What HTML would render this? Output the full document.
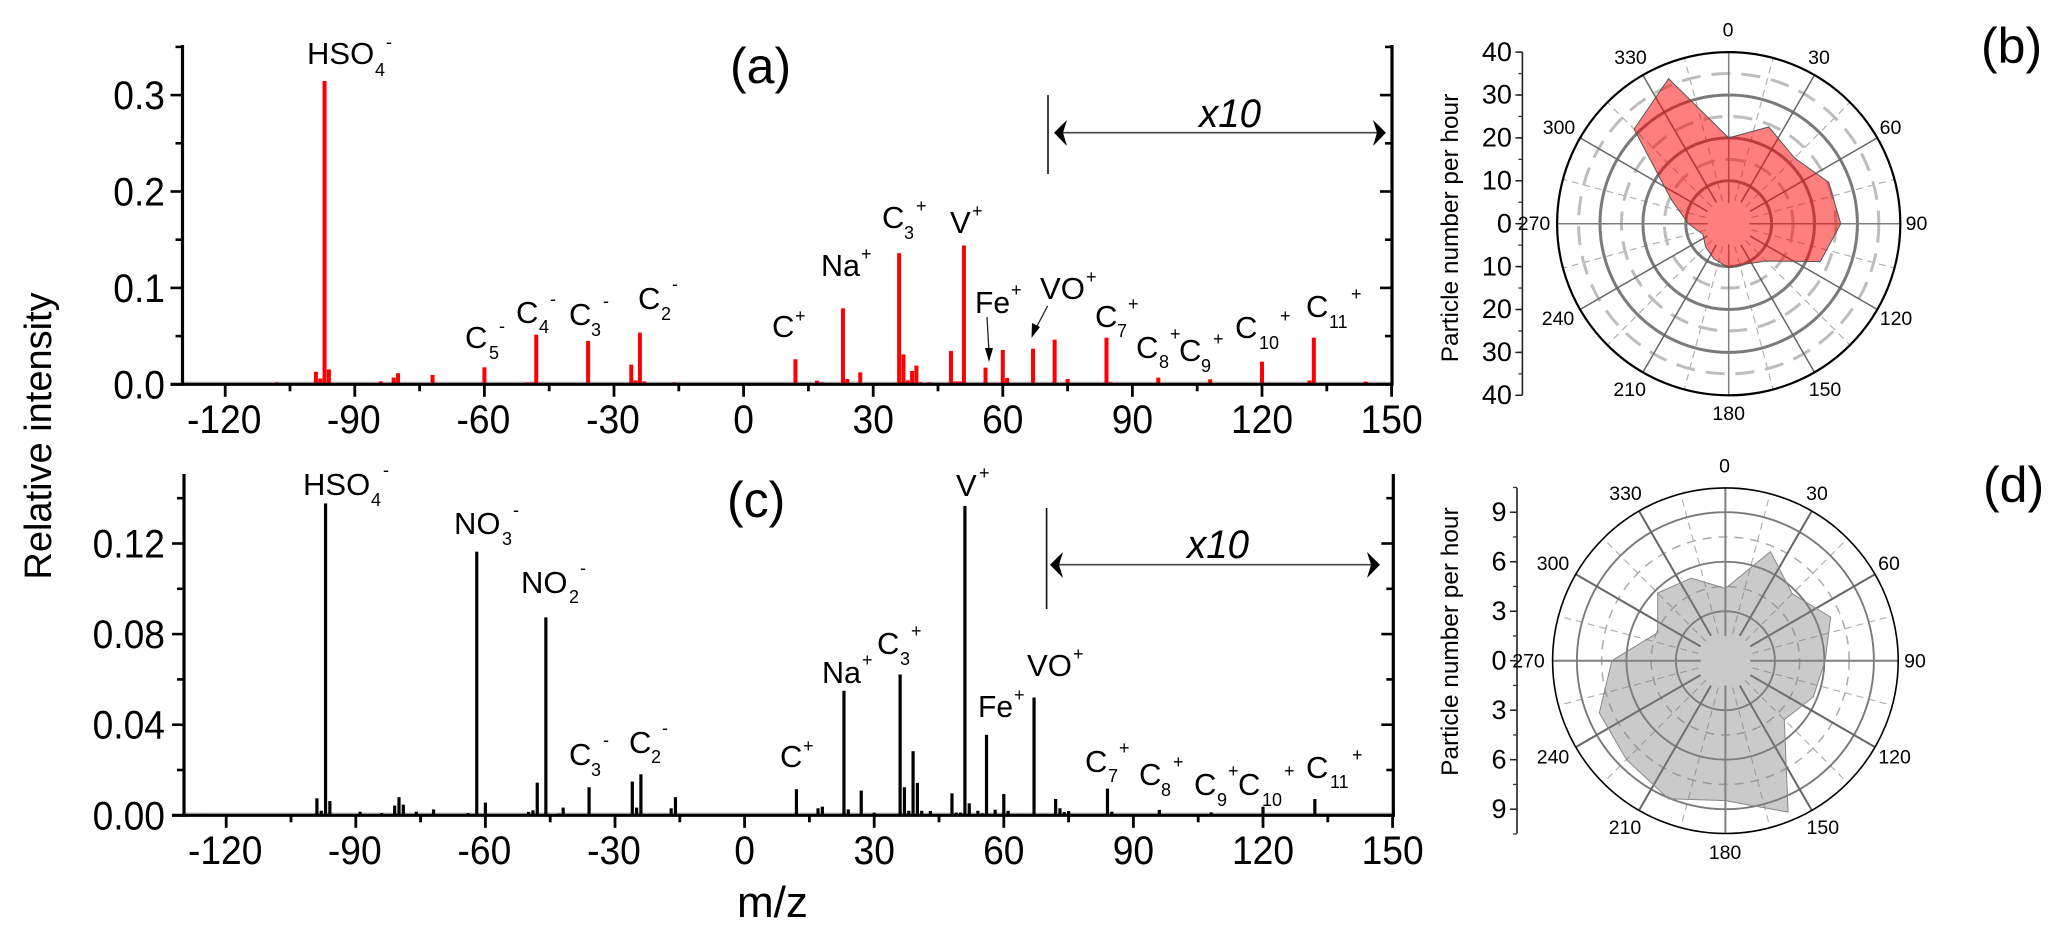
<!DOCTYPE html>
<html lang="en">
<head>
<meta charset="utf-8">
<title>Mass spectra and polar plots</title>
<style>
html,body{margin:0;padding:0;background:#fff;}
svg{display:block;font-family:"Liberation Sans",sans-serif;fill:#000;filter:blur(0.35px);}
.m{font-size:31px;transform:translateY(1px);}
.s{font-size:18px;}
.h{transform:translateY(-1.8px);}
.pl{font-size:50px;}
.x10{font-size:40px;font-style:italic;}
</style>
</head>
<body>
<svg id="figure" width="2067" height="942" viewBox="0 0 2067 942" xmlns="http://www.w3.org/2000/svg">
<rect width="2067" height="942" fill="#fff"/>
<g id="panelA"></g>
<g id="panelC"></g>
<g id="panelB"></g>
<g id="panelD"></g>

<text transform="translate(51,436) rotate(-90)" text-anchor="middle" font-size="38">Relative intensity</text>
<text x="737" y="917" font-size="44">m/z</text>

<text class="pl" x="730" y="83">(a)</text>
<text class="pl" x="727" y="517">(c)</text>
<text class="pl" x="1981" y="63">(b)</text>
<text class="pl" x="1983" y="502">(d)</text>

<g>
<g><text class="m" x="307" y="63">HSO</text><text class="s" x="375" y="76">4</text><text class="s h" x="386" y="50">-</text></g>
<g><text class="m" x="465" y="347">C</text><text class="s" x="489" y="359">5</text><text class="s h" x="499" y="334">-</text></g>
<g><text class="m" x="516" y="322">C</text><text class="s" x="539" y="333">4</text><text class="s h" x="550" y="307">-</text></g>
<g><text class="m" x="569" y="324">C</text><text class="s" x="591" y="336">3</text><text class="s h" x="603" y="309">-</text></g>
<g><text class="m" x="638" y="308">C</text><text class="s" x="661" y="320">2</text><text class="s h" x="672" y="292">-</text></g>
<g><text class="m" x="772" y="336">C</text><text class="s" x="795" y="322">+</text></g>
<g><text class="m" x="821" y="275" textLength="39" lengthAdjust="spacingAndGlyphs">Na</text><text class="s" x="861" y="260">+</text></g>
<g><text class="m" x="882" y="227">C</text><text class="s" x="904" y="239">3</text><text class="s" x="916" y="212">+</text></g>
<g><text class="m" x="950" y="232">V</text><text class="s" x="972" y="217">+</text></g>
<g><text class="m" x="975" y="312" textLength="35" lengthAdjust="spacingAndGlyphs">Fe</text><text class="s" x="1011" y="296">+</text></g>
<g><text class="m" x="1040" y="298" textLength="45" lengthAdjust="spacingAndGlyphs">VO</text><text class="s" x="1086" y="283">+</text></g>
<g><text class="m" x="1095" y="326">C</text><text class="s" x="1117" y="337">7</text><text class="s" x="1128" y="310">+</text></g>
<g><text class="m" x="1136" y="357">C</text><text class="s" x="1159" y="368">8</text><text class="s" x="1170" y="340">+</text></g>
<g><text class="m" x="1179" y="360">C</text><text class="s" x="1201" y="372">9</text><text class="s" x="1213" y="345">+</text></g>
<g><text class="m" x="1235" y="337">C</text><text class="s" x="1259" y="349">10</text><text class="s" x="1280" y="322">+</text></g>
<g><text class="m" x="1306" y="316">C</text><text class="s" x="1329" y="328">11</text><text class="s" x="1351" y="300">+</text></g>
<g><line x1="987" y1="317" x2="989" y2="352" stroke="#222" stroke-width="1.3"/><polygon points="989,362 985,348 993,348" fill="#000"/></g>
<g><line x1="1047.6" y1="306" x2="1035" y2="330" stroke="#222" stroke-width="1.3"/><polygon points="1031.5,338 1032,323 1040,327" fill="#000"/></g>
<g>
<line x1="1048" y1="95" x2="1048" y2="174" stroke="#111" stroke-width="1.6"/>
<line x1="1058" y1="132.7" x2="1382" y2="132.7" stroke="#444" stroke-width="1.6"/>
<polygon points="1054,132.7 1067,120 1063,132.7 1067,146" fill="#000"/>
<polygon points="1386,132.7 1373,120 1377,132.7 1373,146" fill="#000"/>
<text class="x10" x="1199" y="127" textLength="62" lengthAdjust="spacingAndGlyphs">x10</text>
</g>
</g>

<g>
<g><text class="m" x="303" y="494">HSO</text><text class="s" x="371" y="506">4</text><text class="s h" x="383" y="478">-</text></g>
<g><text class="m" x="454" y="533">NO</text><text class="s" x="502" y="545">3</text><text class="s h" x="513" y="518">-</text></g>
<g><text class="m" x="521" y="592">NO</text><text class="s" x="569" y="603">2</text><text class="s h" x="580" y="576">-</text></g>
<g><text class="m" x="569" y="764">C</text><text class="s" x="591" y="776">3</text><text class="s h" x="603" y="748">-</text></g>
<g><text class="m" x="629" y="752">C</text><text class="s" x="651" y="763">2</text><text class="s h" x="662" y="736">-</text></g>
<g><text class="m" x="780" y="766">C</text><text class="s" x="803" y="752">+</text></g>
<g><text class="m" x="822" y="682" textLength="39" lengthAdjust="spacingAndGlyphs">Na</text><text class="s" x="862" y="666">+</text></g>
<g><text class="m" x="877" y="653">C</text><text class="s" x="900" y="665">3</text><text class="s" x="911" y="637">+</text></g>
<g><text class="m" x="956" y="495">V</text><text class="s" x="979" y="479">+</text></g>
<g><text class="m" x="978" y="716" textLength="35" lengthAdjust="spacingAndGlyphs">Fe</text><text class="s" x="1014" y="701">+</text></g>
<g><text class="m" x="1027" y="675" textLength="45" lengthAdjust="spacingAndGlyphs">VO</text><text class="s" x="1073" y="660">+</text></g>
<g><text class="m" x="1085" y="771">C</text><text class="s" x="1108" y="782">7</text><text class="s" x="1119" y="754">+</text></g>
<g><text class="m" x="1139" y="784">C</text><text class="s" x="1161" y="796">8</text><text class="s" x="1173" y="768">+</text></g>
<g><text class="m" x="1194" y="794">C</text><text class="s" x="1217" y="806">9</text><text class="s" x="1228" y="777">+</text></g>
<g><text class="m" x="1238" y="794">C</text><text class="s" x="1262" y="806">10</text><text class="s" x="1284" y="777">+</text></g>
<g><text class="m" x="1306" y="777">C</text><text class="s" x="1330" y="788">11</text><text class="s" x="1352" y="761">+</text></g>
<g>
<line x1="1046.6" y1="508" x2="1046.6" y2="609" stroke="#111" stroke-width="1.6"/>
<line x1="1054" y1="564.7" x2="1376" y2="564.7" stroke="#444" stroke-width="1.6"/>
<polygon points="1050,564.7 1063,552 1059,564.7 1063,578" fill="#000"/>
<polygon points="1380,564.7 1367,552 1371,564.7 1367,578" fill="#000"/>
<text class="x10" x="1187" y="558" textLength="62" lengthAdjust="spacingAndGlyphs">x10</text>
</g>
</g>

<script>
// ---- panel (a) data: m/z and relative intensity ----
const massesA = [-108,-99,-98,-97,-96,-84,-81,-80,-72,-60,-50,-49,-48,-36,-26,-25,-24,-23,-16,12,17,18,23,24,27,29,36,37,38,39,40,41,43,48,49,50,51,56,60,61,67,72,73,74,75,84,85,96,108,120,131,132,144];
const intensitiesA = [0.002,0.013,0.006,0.3146,0.0155,0.003,0.007,0.0115,0.0097,0.0176,0.002,0.002,0.0515,0.045,0.0204,0.004,0.0536,0.003,0.002,0.026,0.0038,0.002,0.0788,0.0055,0.0124,0.001,0.136,0.031,0.004,0.0138,0.0194,0.002,0.002,0.0346,0.003,0.003,0.144,0.0173,0.0356,0.0066,0.037,0.0463,0.001,0.001,0.0055,0.0484,0.002,0.0069,0.0052,0.0235,0.004,0.0484,0.0028];
// ---- panel (c) data ----
const massesC = [-125,-100,-99,-98,-97,-96,-89,-84,-81,-80,-79,-76,-72,-64,-62,-60,-59,-50,-49,-48,-46,-44,-43,-42,-36,-35,-26,-25,-24,-23,-17,-16,7,12,17,18,23,24,27,29,30,36,37,38,39,40,41,43,48,49,50,51,52,54,55,56,57,58,60,61,63,67,69,72,73,74,75,84,85,96,108,112,120,132];
const intensitiesC = [0.0006,0.0005,0.0075,0.002,0.1377,0.0063,0.0016,0.001,0.0043,0.008,0.0047,0.0016,0.0026,0.001,0.1164,0.0056,0.0005,0.0015,0.0022,0.0144,0.0874,0.0004,0.0008,0.0034,0.0124,0.0005,0.0149,0.0034,0.0181,0.0005,0.0031,0.008,0.0003,0.0115,0.0031,0.0038,0.055,0.0026,0.0109,0.0004,0.0012,0.0622,0.0124,0.002,0.0283,0.0143,0.002,0.0019,0.0097,0.0012,0.0012,0.1366,0.0053,0.002,0.0009,0.0355,0.0006,0.0025,0.0094,0.002,0.0006,0.052,0.0006,0.0072,0.0031,0.0014,0.0019,0.0118,0.0016,0.0024,0.0013,0.0005,0.0038,0.0072];
// ---- tick values ----
const xMajorTicks = [-120,-90,-60,-30,0,30,60,90,120,150];
const xMinorTicks = [-105,-75,-45,-15,15,45,75,105,135];
const yMajorTicksA = [0,0.1,0.2,0.3];
const yMinorTicksA = [0.05,0.15,0.25,0.35];
const yLabelsA = ["0.0","0.1","0.2","0.3"];
const yMajorTicksC = [0,0.04,0.08,0.12];
const yMinorTicksC = [0.02,0.06,0.1,0.14];
const yLabelsC = ["0.00","0.04","0.08","0.12"];
// ---- polar data: particle number per hour by wind direction ----
const polarAngles = [0,22.5,45,67.5,90,112.5,135,157.5,180,202.5,225,247.5,270,292.5,315,337.5];
const radiiB = [20,24.4,21.7,25.2,26.1,23.1,12.3,10.2,10.25,8.9,7.6,6.5,9.4,14.4,31.2,36.6];
const radiiD = [4.38,7.15,5.73,6.9,6.05,5.76,5.05,9.93,8.48,9.05,8.48,8.27,6.88,4.44,5.8,5.42];
const spokeAngles = [0,30,60,90,120,150,180,210,240,270,300,330];
const dashedSpokeAngles = [15,45,75,105,135,165,195,225,255,285,315,345];
const ringsB = [10,20,30];
const dashedRingsB = [15,25,35];
const ringsD = [3,6,9];
const dashedRingsD = [4.5,7.5];
const radialLabelsB = [40,30,20,10,0,10,20,30,40];
const radialLabelsD = [9,6,3,0,3,6,9];

const NS = "http://www.w3.org/2000/svg";
function el(tag, parent){
  const e = document.createElementNS(NS, tag);
  parent.appendChild(e);
  return e;
}
function put(e, o){ for(const k in o){ e.setAttribute(k, o[k]); } return e; }

function drawSpectrum(root, masses, values, cfg, yMajor, yMinor, yLabels){
  const xs = m => cfg.x0 + cfg.xs * m;
  const ys = v => cfg.y0 - cfg.ys * v;
  const grey = el("line", root);
  put(grey, {x1:cfg.left, x2:cfg.right, y1:cfg.y0-2.2, y2:cfg.y0-2.2, stroke:"#c4c4c4", "stroke-width":1.2});
  
  
  masses.forEach((m, i) => {
    const r = el("rect", root);
    put(r, {x:xs(m)-cfg.w/2, y:ys(values[i]), width:cfg.w, height:cfg.y0-ys(values[i]), fill:cfg.color});
    
    
  });
  const axes = el("g", root);
  
  
  const line = (x1,y1,x2,y2,w) => put(el("line", axes), {x1,y1,x2,y2,stroke:"#000","stroke-width":w});
  line(cfg.left, cfg.top-1, cfg.left, cfg.y0+1.5, 3.2);
  line(cfg.right, cfg.top-1, cfg.right, cfg.y0+1.5, 3.2);
  line(cfg.left-12, cfg.y0, cfg.right+1.5, cfg.y0, 3.2);
  xMajorTicks.forEach(t => {
    line(xs(t), cfg.y0, xs(t), cfg.y0+12.5, 2.8);
    const tx = el("text", axes);
    put(tx, {transform:"translate("+(xs(t)-(t<0?1:0))+","+cfg.xLabelY+") scale(0.93,1)", "text-anchor":"middle", "font-size":40});
    tx.textContent = String(t);
    
    
  });
  xMinorTicks.forEach(t => line(xs(t), cfg.y0, xs(t), cfg.y0+7, 2.8));
  yMajor.forEach((t, i) => {
    line(cfg.left-12, ys(t), cfg.left, ys(t), 2.6);
    line(cfg.right-12, ys(t), cfg.right, ys(t), 2.6);
    const tx = el("text", axes);
    put(tx, {transform:"translate(165,"+(ys(t)+14)+") scale(0.93,1)", "text-anchor":"end", "font-size":40});
    tx.textContent = yLabels[i];
    
    
  });
  yMinor.forEach(t => {
    line(cfg.left-7, ys(t), cfg.left, ys(t), 2.6);
    line(cfg.right-7, ys(t), cfg.right, ys(t), 2.6);
  });
}

function drawPolar(root, radii, cfg, rings, dashedRings, radialLabels){
  const rs = v => cfg.scale * v;
  const pt = (a, r) => {
    const t = a * Math.PI / 180;
    return [cfg.cx + r * Math.sin(t), cfg.cy - r * Math.cos(t)];
  };
  const disc = rs(cfg.disc);
  dashedSpokeAngles.forEach(a => {
    const p1 = pt(a, disc+3), p2 = pt(a, cfg.R);
    const l = el("line", root);
    put(l, {x1:p1[0],y1:p1[1],x2:p2[0],y2:p2[1],stroke:"#aaa","stroke-width":1.1,"stroke-dasharray":"7 5"});
    
    
  });
  dashedRings.forEach(v => {
    const c = el("circle", root);
    put(c, {cx:cfg.cx,cy:cfg.cy,r:rs(v),fill:"none",stroke:cfg.dashColor,"stroke-width":cfg.dashW,"stroke-dasharray":cfg.dash});
    
    
  });
  rings.forEach(v => {
    const c = el("circle", root);
    put(c, {cx:cfg.cx,cy:cfg.cy,r:rs(v),fill:"none",stroke:"#7a7a7a","stroke-width":cfg.ringW});
    
    
  });
  spokeAngles.forEach(a => {
    const p1 = pt(a, disc+(a%90===0?0:4)), p2 = pt(a, cfg.R);
    const l = el("line", root);
    put(l, {x1:p1[0],y1:p1[1],x2:p2[0],y2:p2[1],stroke:a%90===0?"#808080":"#666","stroke-width":cfg.spokeW});
    
    
  });
  const mask = el("circle", root);
  put(mask, {cx:cfg.cx,cy:cfg.cy,r:disc,fill:"#fff"});
  
  
  const poly = el("polygon", root);
  put(poly, {points:polarAngles.map((a,i)=>pt(a, rs(radii[i])).map(n=>n.toFixed(1)).join(",")).join(" "),fill:cfg.fill,stroke:cfg.edge,"stroke-width":1});
  
  
  const outer = el("circle", root);
  put(outer, {cx:cfg.cx,cy:cfg.cy,r:cfg.R,fill:"none",stroke:"#000","stroke-width":cfg.outerW});
  
  

  const ax = el("g", root);
  
  
  put(el("line", ax), {x1:cfg.ax,y1:cfg.cy-cfg.R,x2:cfg.ax,y2:cfg.cy+cfg.R,stroke:"#222","stroke-width":1.6});
  const top = cfg.cy - rs(cfg.maxMajor);
  for(let v=-cfg.axisMax; v<=cfg.axisMax+1e-6; v+=cfg.minorStep){
    put(el("line", ax), {x1:cfg.ax-4,y1:cfg.cy+rs(v),x2:cfg.ax,y2:cfg.cy+rs(v),stroke:"#333","stroke-width":1.3});
  }
  radialLabels.forEach((lab, i) => {
    const y = top + i * rs(cfg.majorStep);
    put(el("line", ax), {x1:cfg.ax-7,y1:y,x2:cfg.ax,y2:y,stroke:"#222","stroke-width":1.5});
    const tx = el("text", ax);
    put(tx, {x:cfg.ax-10.5,y:y+8.7,"text-anchor":"end","font-size":cfg.axisFont});
    tx.textContent = String(lab);
    
    
  });
  const title = el("text", root);
  put(title, {transform:"translate(1458,"+cfg.titleY+") rotate(-90)","text-anchor":"middle","font-size":24.4});
  title.textContent = "Particle number per hour";
  
  
  spokeAngles.forEach((a, i) => {
    const tx = el("text", root);
    put(tx, {x:cfg.angleLabelX[i],y:cfg.angleLabelY[i]+1,"text-anchor":"middle","font-size":19.5});
    tx.textContent = String(a);
    
    
  });
}

drawSpectrum(document.getElementById("panelA"), massesA, intensitiesA,
  {x0:743.6,xs:4.32,y0:384.3,ys:964,left:182.5,right:1392,top:46,w:4,color:"#fe0000",xLabelY:433},
  yMajorTicksA, yMinorTicksA, yLabelsA);
drawSpectrum(document.getElementById("panelC"), massesC, intensitiesC,
  {x0:744.6,xs:4.32,y0:815.3,ys:2265,left:184,right:1393.3,top:475,w:3.2,color:"#000",xLabelY:864},
  yMajorTicksC, yMinorTicksC, yLabelsC);
drawPolar(document.getElementById("panelB"), radiiB,
  {cx:1728.7,cy:223.7,R:171.6,scale:4.29,disc:4.8,fill:"rgba(255,0,0,0.5)",edge:"#555",ringW:3,dashW:3,dash:"19 11",dashColor:"#bdbdbd",spokeW:1.5,outerW:2.2,ax:1522.4,axisMax:40,maxMajor:40,majorStep:10,minorStep:5,axisFont:27,titleY:228,
   angleLabelX:[1728,1819,1890.5,1916.5,1896,1825,1728.7,1629.7,1558,1534,1559,1630.5],
   angleLabelY:[35.7,63,133,229,324,395,419,395,324,229,133,63]},
  ringsB, dashedRingsB, radialLabelsB);
drawPolar(document.getElementById("panelD"), radiiD,
  {cx:1725.4,cy:660.7,R:172.8,scale:16.5,disc:1.5,fill:"rgba(128,128,128,0.42)",edge:"#888",ringW:1.9,dashW:1.5,dash:"9 7",dashColor:"#aaa",spokeW:2,outerW:1.6,ax:1517,axisMax:10.5,maxMajor:9,majorStep:3,minorStep:1.5,axisFont:27,titleY:641.6,
   angleLabelX:[1724.6,1817,1889,1915,1894.6,1822.8,1725,1625,1553,1528.5,1553,1625.5],
   angleLabelY:[471.7,499,569,666.7,762.7,833,858,833,762.7,666.7,569,499]},
  ringsD, dashedRingsD, radialLabelsD);
</script>
</svg>
</body>
</html>
